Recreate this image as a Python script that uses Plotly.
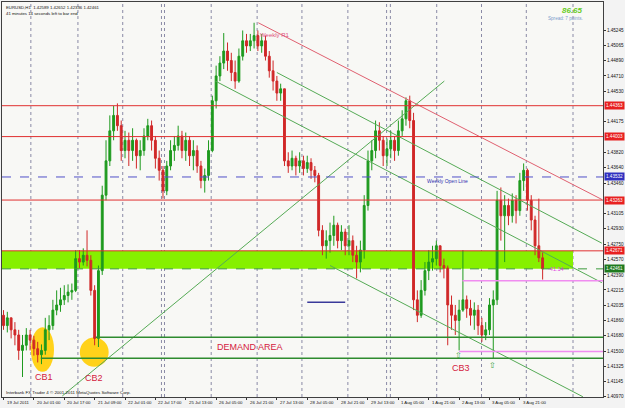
import plotly.graph_objects as go

# ---------------- data ----------------
bar_open = [
    1.4192, 1.4180, 1.4189, 1.4175, 1.4169, 1.4151, 1.4157, 1.4169, 1.4163, 1.4153,
    1.4146, 1.4151, 1.4175, 1.4180, 1.4198, 1.4204, 1.4210, 1.4215, 1.4219, 1.4221,
    1.4258, 1.4254, 1.4262, 1.4256, 1.4221, 1.4165, 1.4244, 1.4332, 1.4372, 1.4407,
    1.4425, 1.4413, 1.4384, 1.4396, 1.4384, 1.4396, 1.4378, 1.4384, 1.4401, 1.4413,
    1.4396, 1.4375, 1.4361, 1.4337, 1.4366, 1.4384, 1.4390, 1.4401, 1.4384, 1.4396,
    1.4378, 1.4384, 1.4366, 1.4349, 1.4355, 1.4384, 1.4442, 1.4471, 1.4486, 1.4500,
    1.4489, 1.4475, 1.4465, 1.4494, 1.4512, 1.4506, 1.4512, 1.4518, 1.4506, 1.4512,
    1.4494, 1.4477, 1.4465, 1.4451, 1.4456, 1.4372, 1.4366, 1.4375, 1.4366, 1.4372,
    1.4363, 1.4370, 1.4361, 1.4355, 1.4291, 1.4273, 1.4279, 1.4285, 1.4297, 1.4279,
    1.4289, 1.4273, 1.4279, 1.4262, 1.4254, 1.4268, 1.4320, 1.4372, 1.4384, 1.4407,
    1.4396, 1.4378, 1.4386, 1.4396, 1.4384, 1.4407, 1.4421, 1.4442, 1.4419, 1.4210,
    1.4192, 1.4221, 1.4244, 1.4254, 1.4258, 1.4273, 1.4250, 1.4247, 1.4204, 1.4192,
    1.4186, 1.4198, 1.4210, 1.4200, 1.4192, 1.4198, 1.4180, 1.4169, 1.4175, 1.4204,
    1.4210, 1.4326, 1.4308, 1.4320, 1.4308, 1.4326, 1.4314, 1.4349, 1.4361, 1.4326,
    1.4303, 1.4273, 1.42589,
]
bar_high = [
    1.4198, 1.4196, 1.4189, 1.4184, 1.4175, 1.4169, 1.4177, 1.4175, 1.4168, 1.4161,
    1.4158, 1.4189, 1.4192, 1.4210, 1.4221, 1.4224, 1.4227, 1.4228, 1.4229, 1.4268,
    1.4268, 1.4270, 1.4291, 1.4262, 1.4227, 1.4250, 1.4343, 1.4396, 1.4425, 1.4436,
    1.4439, 1.4419, 1.4407, 1.4405, 1.4410, 1.4398, 1.4396, 1.4410, 1.4421, 1.4419,
    1.4401, 1.4384, 1.4366, 1.4372, 1.4396, 1.4401, 1.4413, 1.4407, 1.4405, 1.4401,
    1.4396, 1.4390, 1.4372, 1.4363, 1.4396, 1.4448, 1.4483, 1.4494, 1.4521, 1.4510,
    1.4498, 1.4489, 1.4503, 1.4524, 1.4520, 1.4520, 1.4533, 1.4524, 1.4520, 1.4518,
    1.4500, 1.4489, 1.4471, 1.4462, 1.4456, 1.4382, 1.4384, 1.4378, 1.4382, 1.4378,
    1.4378, 1.4375, 1.4366, 1.4358, 1.4297, 1.4291, 1.4300, 1.4308, 1.4300, 1.4297,
    1.4293, 1.4297, 1.4285, 1.4273, 1.4279, 1.4332, 1.4384, 1.4396, 1.4419, 1.4417,
    1.4401, 1.4398, 1.4407, 1.4401, 1.4419, 1.4431, 1.4446, 1.4448, 1.4428, 1.4221,
    1.4233, 1.4254, 1.4268, 1.4273, 1.4279, 1.4273, 1.4258, 1.4250, 1.4215, 1.4204,
    1.4210, 1.4268, 1.4215, 1.4210, 1.4207, 1.4204, 1.4189, 1.4184, 1.4212, 1.4221,
    1.4337, 1.4341, 1.4332, 1.4328, 1.4334, 1.4332, 1.4358, 1.4369, 1.4363, 1.4332,
    1.4308, 1.4328, 1.42652,
]
bar_low = [
    1.4175, 1.4172, 1.4165, 1.4157, 1.4140, 1.4120, 1.4151, 1.4151, 1.4145, 1.4137,
    1.4135, 1.4146, 1.4163, 1.4175, 1.4192, 1.4196, 1.4204, 1.4207, 1.4210, 1.4219,
    1.4247, 1.4250, 1.4249, 1.4215, 1.4157, 1.4155, 1.4239, 1.4326, 1.4366, 1.4396,
    1.4407, 1.4372, 1.4375, 1.4366, 1.4372, 1.4363, 1.4361, 1.4378, 1.4396, 1.4384,
    1.4363, 1.4349, 1.4328, 1.4332, 1.4361, 1.4372, 1.4384, 1.4375, 1.4372, 1.4366,
    1.4361, 1.4358, 1.4340, 1.4335, 1.4349, 1.4382, 1.4433, 1.4465, 1.4479, 1.4477,
    1.4465, 1.4456, 1.4463, 1.4489, 1.4498, 1.4500, 1.4503, 1.4500, 1.4498, 1.4489,
    1.4469, 1.4454, 1.4442, 1.4442, 1.4366, 1.4358, 1.4361, 1.4355, 1.4358, 1.4355,
    1.4358, 1.4351, 1.4347, 1.4284, 1.4262, 1.4258, 1.4265, 1.4273, 1.4270, 1.4268,
    1.4262, 1.4262, 1.4254, 1.4235, 1.4242, 1.4258, 1.4314, 1.4361, 1.4375, 1.4384,
    1.4366, 1.4366, 1.4375, 1.4372, 1.4378, 1.4401, 1.4413, 1.4410, 1.4198, 1.4184,
    1.4189, 1.4215, 1.4233, 1.4244, 1.4250, 1.4242, 1.4235, 1.4157, 1.4175, 1.4169,
    1.4151, 1.4196, 1.4189, 1.4180, 1.4175, 1.4169, 1.4161, 1.4163, 1.4169, 1.4142,
    1.4204, 1.4279, 1.4254, 1.4297, 1.4300, 1.4299, 1.4308, 1.4337, 1.4314, 1.4291,
    1.4262, 1.4254, 1.42336,
]
bar_close = [
    1.4180, 1.4189, 1.4175, 1.4169, 1.4151, 1.4157, 1.4169, 1.4163, 1.4153, 1.4146,
    1.4151, 1.4175, 1.4180, 1.4198, 1.4204, 1.4210, 1.4215, 1.4219, 1.4221, 1.4258,
    1.4254, 1.4262, 1.4256, 1.4221, 1.4165, 1.4244, 1.4332, 1.4372, 1.4407, 1.4425,
    1.4413, 1.4384, 1.4396, 1.4384, 1.4396, 1.4378, 1.4384, 1.4401, 1.4413, 1.4396,
    1.4375, 1.4361, 1.4337, 1.4366, 1.4384, 1.4390, 1.4401, 1.4384, 1.4396, 1.4378,
    1.4384, 1.4366, 1.4349, 1.4355, 1.4384, 1.4442, 1.4471, 1.4486, 1.4500, 1.4489,
    1.4475, 1.4465, 1.4494, 1.4512, 1.4506, 1.4512, 1.4518, 1.4506, 1.4512, 1.4494,
    1.4477, 1.4465, 1.4451, 1.4456, 1.4372, 1.4366, 1.4375, 1.4366, 1.4372, 1.4363,
    1.4370, 1.4361, 1.4355, 1.4291, 1.4273, 1.4279, 1.4285, 1.4297, 1.4279, 1.4289,
    1.4273, 1.4279, 1.4262, 1.4254, 1.4268, 1.4320, 1.4372, 1.4384, 1.4407, 1.4396,
    1.4378, 1.4386, 1.4396, 1.4384, 1.4407, 1.4421, 1.4442, 1.4419, 1.4210, 1.4192,
    1.4221, 1.4244, 1.4254, 1.4258, 1.4273, 1.4250, 1.4247, 1.4204, 1.4192, 1.4186,
    1.4198, 1.4210, 1.4200, 1.4192, 1.4198, 1.4180, 1.4169, 1.4175, 1.4204, 1.4210,
    1.4326, 1.4308, 1.4320, 1.4308, 1.4326, 1.4314, 1.4349, 1.4361, 1.4326, 1.4303,
    1.4273, 1.4259, 1.42461,
]
bar_index = list(range(len(bar_close)))

time_tick_bars = [0, 8, 16, 24, 32, 40, 48, 56, 64, 72, 80, 88, 96, 104, 112, 120, 128, 136]
time_tick_labels = ["19 Jul 2011", "20 Jul 01:00", "20 Jul 17:00", "21 Jul 09:00",
                    "22 Jul 01:00", "22 Jul 17:00", "25 Jul 13:00", "26 Jul 05:00",
                    "26 Jul 21:00", "27 Jul 13:00", "28 Jul 05:00", "28 Jul 21:00",
                    "29 Jul 13:00", "1 Aug 05:00", "1 Aug 21:00", "2 Aug 13:00",
                    "3 Aug 05:00", "3 Aug 21:00"]

price_tick_values = [1.45245, 1.45065, 1.44890, 1.44710, 1.44530, 1.44175, 1.43820,
                     1.43640, 1.43460, 1.43105, 1.42930, 1.42750, 1.42570, 1.42390,
                     1.42215, 1.42035, 1.41860, 1.41680, 1.41500, 1.41325, 1.41145,
                     1.40970]
price_tick_labels = ["%.5f" % v for v in price_tick_values]

separator_bars = [7.2, 19.6, 31.4, 41.6, 42.4, 54.7, 66.8, 78.6, 90.7, 100.9,
                  101.9, 114.1, 125.9, 137.7, 150.0]

red_levels = [1.44363, 1.44003, 1.43263, 1.42671]
weekly_open_level = 1.43532
bid_level = 1.42461
zone_top, zone_bottom, zone_end_bar = 1.42671, 1.42461, 150.0
demand_levels = [1.41665, 1.41420]
demand_start_bars = [24.3, 9.8]
pink_levels = [1.42322, 1.41496]
pink_start_bars = [120.9, 120.0]
purple_level, purple_bars = 1.42072, (80.0, 90.0)

# trend / channel lines: (bar0, price0, bar1, price1)
channel_lines = {
    "weekly_r1": (67.1, 1.4533, 157.6, 1.4327),
    "upper": (72.0, 1.4475, 157.6, 1.4276),
    "middle": (55.8, 1.4465, 157.6, 1.4230),
    "lower": (86.0, 1.4250, 152.6, 1.4097),
    "rising": (15.5, 1.4098, 116.1, 1.4465),
}

cb_ellipses = [  # bar0, bar1, price_low, price_high
    (7.2, 13.3, 1.4126, 1.4178),
    (20.1, 27.7, 1.4132, 1.4166),
]
cb_labels = [("CB1", 10.6, 1.4120), ("CB2", 23.8, 1.4119), ("CB3", 120.4, 1.4130)]
arrow_marks = [(119.8, 1.4145), (128.7, 1.4133)]

# ---------------- figure ----------------
X_RANGE = [-0.4, 157.9]
Y_RANGE = [1.40967, 1.45572]
FONT = "Liberation Sans, Arial, sans-serif"
RED = "#E03030"

fig = go.Figure()

chan_colors = {"weekly_r1": "#E06070", "upper": "#55AA55", "middle": "#55AA55",
               "lower": "#55AA55", "rising": "#55AA55"}
for name, (b0, p0, b1, p1) in channel_lines.items():
    fig.add_trace(go.Scatter(x=[b0, b1], y=[p0, p1], mode="lines",
                             line=dict(color=chan_colors[name], width=1),
                             hoverinfo="skip", showlegend=False))

fig.add_trace(go.Candlestick(
    x=bar_index, open=bar_open, high=bar_high, low=bar_low, close=bar_close,
    increasing=dict(line=dict(color="#1E9A1E", width=1), fillcolor="#1E9A1E"),
    decreasing=dict(line=dict(color="#D02828", width=1), fillcolor="#D02828"),
    whiskerwidth=0, showlegend=False, hoverinfo="skip"))

shapes = []
shapes.append(dict(type="rect", xref="x", yref="y", x0=X_RANGE[0], x1=zone_end_bar,
                   y0=zone_bottom, y1=zone_top, fillcolor="#86F000",
                   line=dict(width=0), layer="below"))
for b0, b1, pl, ph in cb_ellipses:
    shapes.append(dict(type="circle", xref="x", yref="y", x0=b0, x1=b1, y0=pl, y1=ph,
                       fillcolor="#FFD21A", line=dict(width=0), layer="below"))
for b in separator_bars:
    shapes.append(dict(type="line", xref="x", yref="paper", x0=b, x1=b, y0=0, y1=1,
                       line=dict(color="#8A8AA6", width=1, dash="dot"), layer="below"))
for lv in red_levels:
    shapes.append(dict(type="line", xref="paper", yref="y", x0=0, x1=1, y0=lv, y1=lv,
                       line=dict(color=RED, width=1)))
shapes.append(dict(type="line", xref="paper", yref="y", x0=0, x1=1,
                   y0=weekly_open_level, y1=weekly_open_level,
                   line=dict(color="#5050C8", width=1, dash="dash")))
shapes.append(dict(type="line", xref="paper", yref="y", x0=0, x1=1,
                   y0=bid_level, y1=bid_level,
                   line=dict(color="#3C9A3C", width=1, dash="dash")))
for lv, sb in zip(demand_levels, demand_start_bars):
    shapes.append(dict(type="line", xref="x", yref="y", x0=sb, x1=X_RANGE[1],
                       y0=lv, y1=lv, line=dict(color="#2E8B2E", width=1.5)))
for lv, sb in zip(pink_levels, pink_start_bars):
    shapes.append(dict(type="line", xref="x", yref="y", x0=sb, x1=X_RANGE[1],
                       y0=lv, y1=lv, line=dict(color="#F08CF0", width=1.5)))
shapes.append(dict(type="line", xref="x", yref="y", x0=purple_bars[0], x1=purple_bars[1],
                   y0=purple_level, y1=purple_level, line=dict(color="#3A3A9A", width=1.5)))

ann = []
right_labels = [(red_levels[0], "#E82020"), (red_levels[1], "#E82020"),
                (weekly_open_level, "#3030C0"), (red_levels[2], "#E82020"),
                (red_levels[3], "#E82020"), (bid_level, "#1E7A1E")]
for lv, col in right_labels:
    ann.append(dict(xref="paper", yref="y", x=1, y=lv, xanchor="left", yanchor="middle",
                    xshift=1, text="%.5f" % lv, showarrow=False, bgcolor=col,
                    borderpad=1, font=dict(family=FONT, size=4.6, color="white")))
for b, t in zip(time_tick_bars, time_tick_labels):
    ann.append(dict(xref="x", yref="paper", x=b, y=0, xanchor="left", yanchor="top",
                    yshift=-1, xshift=1, text=t, showarrow=False,
                    font=dict(family=FONT, size=4.3, color="#111")))
for t, b, p in cb_labels:
    ann.append(dict(xref="x", yref="y", x=b, y=p, text=t, showarrow=False,
                    font=dict(family=FONT, size=9, color="#D42040")))
ann.append(dict(xref="x", yref="y", x=65, y=1.4155, text="DEMAND AREA", showarrow=False,
                font=dict(family=FONT, size=9, color="#D42040")))
ann.append(dict(xref="x", yref="y", x=67.1, y=1.4519, text="Weekly R1", showarrow=False,
                xanchor="left", font=dict(family=FONT, size=6, color="#E05080")))
ann.append(dict(xref="x", yref="y", x=110.9, y=1.4349, text="Weekly Open Line",
                showarrow=False, xanchor="left",
                font=dict(family=FONT, size=5, color="#3030B0")))
ann.append(dict(xref="x", yref="y", x=143.0, y=1.42461, text="-41.14", showarrow=False,
                xanchor="left", font=dict(family=FONT, size=5.5, color="#E040E0")))
for b, p in arrow_marks:
    ann.append(dict(xref="x", yref="y", x=b, y=p, text="⇧", showarrow=False,
                    font=dict(family="DejaVu Sans", size=8, color="#3CA03C")))
ann.append(dict(xref="paper", yref="paper", x=0, y=1, xanchor="left", yanchor="top",
                xshift=2, yshift=-1, align="left", showarrow=False,
                text="EURUSD,H1  1.42589 1.42652 1.42336 1.42461<br>41 minutes 14 seconds left to bar end",
                font=dict(family=FONT, size=4.3, color="#111")))
ann.append(dict(xref="paper", yref="paper", x=0.970, y=1, yanchor="top", yshift=-2,
                text="<b><i>86.65</i></b>", showarrow=False,
                font=dict(family=FONT, size=8, color="#66CC22")))
ann.append(dict(xref="paper", yref="paper", x=0.970, y=0.957, yanchor="middle",
                text="Spread: 7 points.", showarrow=False,
                font=dict(family=FONT, size=4.6, color="#7C9CCC")))
ann.append(dict(xref="paper", yref="paper", x=0, y=0, xanchor="left", yanchor="bottom",
                xshift=2, yshift=0, text="Interbank FX Trader 4 © 2001-2011 MetaQuotes Software Corp.",
                showarrow=False, font=dict(family=FONT, size=4.4, color="#111")))

fig.update_layout(
    width=625, height=408,
    margin=dict(l=1, r=21, t=1, b=11),
    paper_bgcolor="#F3F3F3", plot_bgcolor="#F8F8F5",
    shapes=shapes, annotations=ann, showlegend=False,
    font=dict(family=FONT, size=6, color="#111"),
    xaxis=dict(range=X_RANGE, rangeslider=dict(visible=False), showgrid=False,
               zeroline=False, tickvals=time_tick_bars, ticktext=[""] * len(time_tick_bars),
               ticks="outside", ticklen=2, tickcolor="#333", showline=True, mirror=True,
               linecolor="#404040", linewidth=1),
    yaxis=dict(range=Y_RANGE, side="right", showgrid=False, zeroline=False,
               tickvals=price_tick_values, ticktext=price_tick_labels,
               ticks="outside", ticklen=2, tickcolor="#333",
               tickfont=dict(family=FONT, size=4.6, color="#111"),
               showline=True, mirror=True, linecolor="#404040", linewidth=1),
)

fig.write_html("out.html")
